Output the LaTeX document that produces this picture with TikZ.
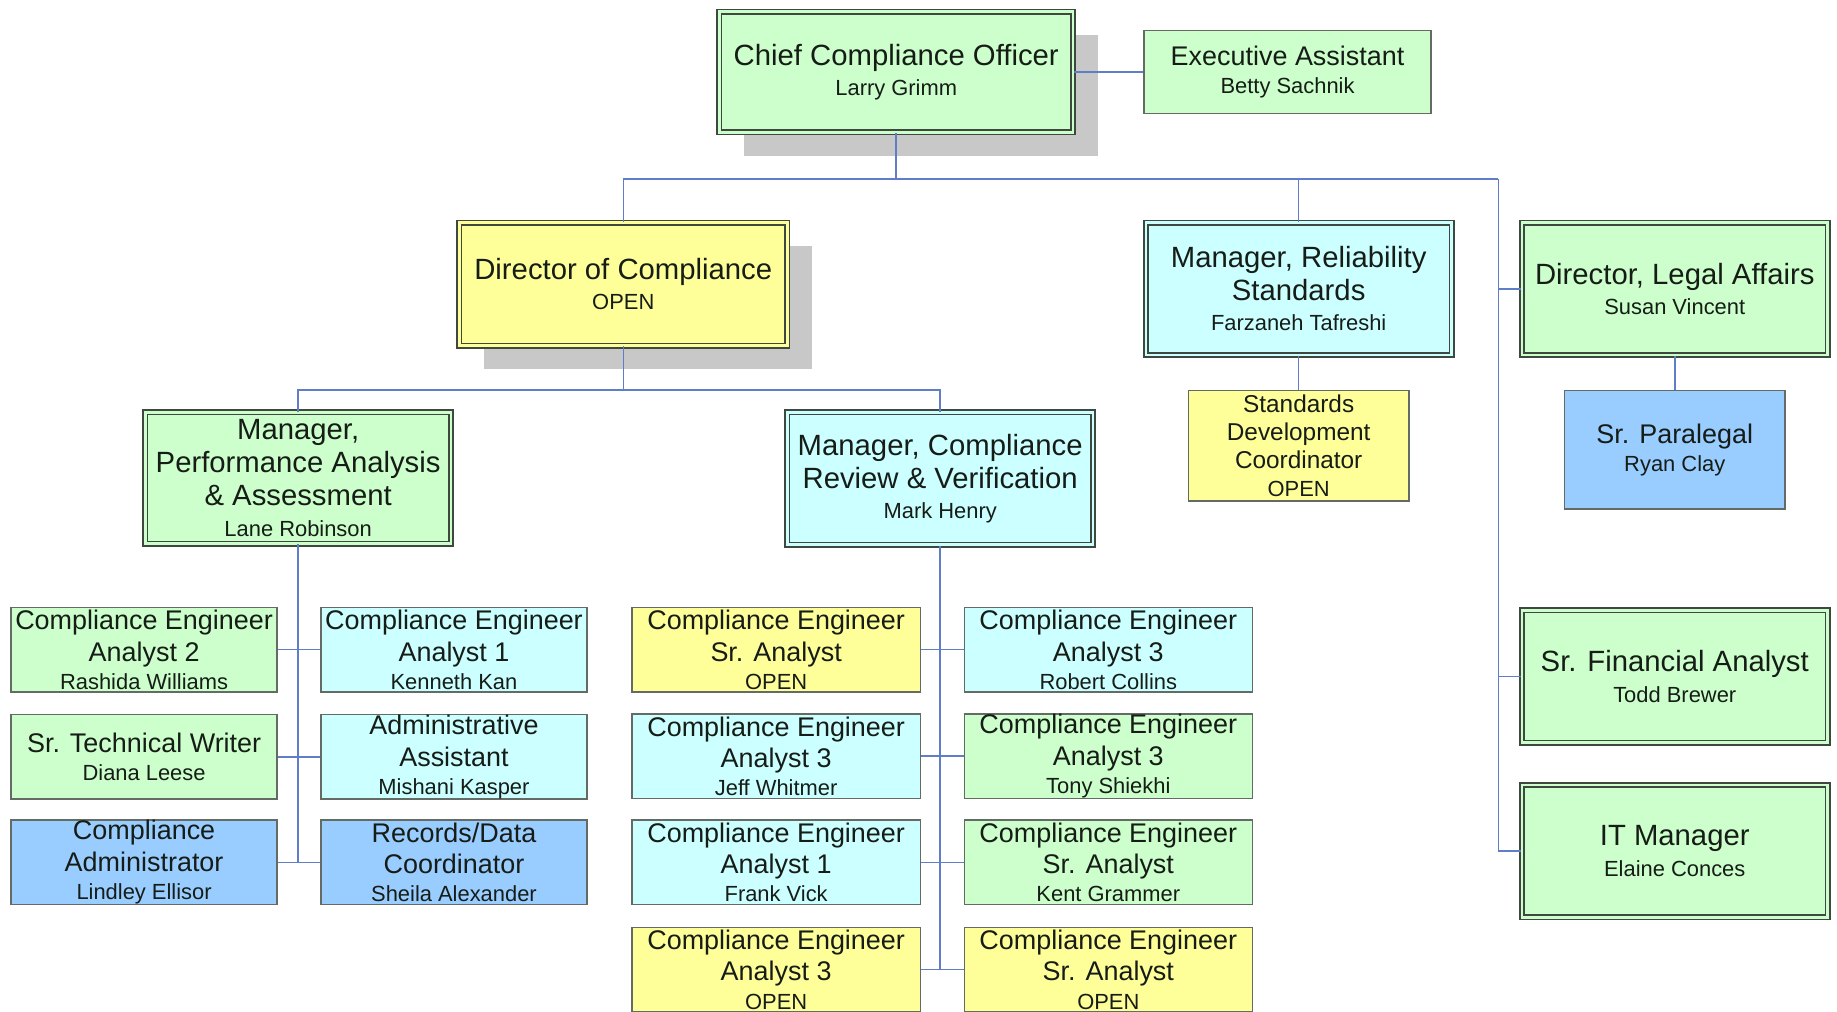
\documentclass[tikz,border=0pt]{standalone}
\usepackage{fontspec}
\setmainfont{Liberation Sans}
\usepackage{tikz}
\usetikzlibrary{shadows, positioning, calc}

\definecolor{orgGreen}{RGB}{204, 255, 204}
\definecolor{orgCyan}{RGB}{204, 255, 255}
\definecolor{orgYellow}{RGB}{255, 255, 153}
\definecolor{orgBlue}{RGB}{153, 204, 255}
\definecolor{boxline}{RGB}{62, 72, 62}
\definecolor{staffline}{RGB}{100, 106, 100}
\definecolor{linkblue}{RGB}{96, 126, 200}
\definecolor{shadowgray}{RGB}{200, 200, 200}
\definecolor{inkdark}{RGB}{22, 28, 22}

\newcommand\headfont{\fontsize{12.5}{14}\selectfont}
\newcommand\stafffont{\fontsize{11.5}{13.5}\selectfont}
\newcommand\coordfont{\fontsize{10.4}{12}\selectfont}
\newcommand\nm[1]{{\fontsize{9.35}{11}\selectfont #1}}

\tikzset{
  box/.style={align=center, inner xsep=1pt, inner ysep=0pt, text=inkdark},
  boxsize/.style 2 args={minimum width=#1*0.5pt, minimum height=#2*0.5pt},
  headbox/.style={box, draw=boxline, fill=#1, double=#1, double distance=1.1pt, line width=0.7pt, font=\headfont},
  staffbox/.style={box, draw=staffline, fill=#1, line width=0.6pt, font=\stafffont},
  shadowed/.style={drop shadow={shadow xshift=10.5pt, shadow yshift=-10pt, fill=shadowgray, opacity=1}},
  link/.style={draw=linkblue, line width=0.65pt},
  spine/.style={draw=linkblue, line width=0.85pt},
}

\begin{document}
\begin{tikzpicture}[x=0.5pt, y=-0.5pt]
  \useasboundingbox (0,0) rectangle (1568,863);
  \clip (0,0) rectangle (1568,863);

  % top level
  \node[headbox=orgGreen, shadowed, boxsize={302}{103}] (cco) at (765,61.5) {Chief Compliance Officer\\[-1pt]\nm{Larry Grimm}};
  \node[staffbox=orgGreen, boxsize={245}{71}] (exec) at (1099,61.5) {Executive Assistant\\[-1.5pt]\nm{Betty Sachnik}};

  % second level
  \node[headbox=orgYellow, shadowed, boxsize={280}{105}] (dir) at (532,242.5) {Director of Compliance\\[-1pt]\nm{OPEN}};
  \node[headbox=orgCyan, boxsize={261}{113}] (rel) at (1108.5,246.5) {Manager, Reliability\\Standards\\[-1pt]\nm{Farzaneh Tafreshi}};
  \node[headbox=orgGreen, boxsize={261}{113}] (legal) at (1429.5,246.5) {Director, Legal Affairs\\[-1pt]\nm{Susan Vincent}};
  \node[staffbox=orgYellow, font=\coordfont, boxsize={188}{94}] (coord) at (1108.5,380.5) {Standards\\Development\\Coordinator\\\nm{OPEN}};
  \node[staffbox=orgBlue, boxsize={188}{101}] (para) at (1429.5,384) {Sr. Paralegal\\[-1.5pt]\nm{Ryan Clay}};
  \node[headbox=orgGreen, boxsize={261}{113}] (fin) at (1429.5,577.5) {Sr. Financial Analyst\\[-1pt]\nm{Todd Brewer}};
  \node[headbox=orgGreen, boxsize={261}{113}] (itm) at (1429.5,726.5) {IT Manager\\[-1pt]\nm{Elaine Conces}};

  % managers under the director
  \node[headbox=orgGreen, boxsize={261}{112}] (paa) at (254.5,408) {Manager,\\Performance Analysis\\\& Assessment\\[-1pt]\nm{Lane Robinson}};
  \node[headbox=orgCyan, boxsize={261}{113}] (crv) at (802.5,408.5) {Manager, Compliance\\Review \& Verification\\[-1pt]\nm{Mark Henry}};

  % performance analysis staff
  \node[staffbox=orgGreen, boxsize={227}{72}] (pa1) at (123,554.5) {Compliance Engineer\\Analyst 2\\[-1.5pt]\nm{Rashida Williams}};
  \node[staffbox=orgCyan, boxsize={227}{72}] (pa2) at (387.5,554.5) {Compliance Engineer\\Analyst 1\\[-1.5pt]\nm{Kenneth Kan}};
  \node[staffbox=orgGreen, boxsize={227}{72}] (pa3) at (123,646) {Sr. Technical Writer\\[-1.5pt]\nm{Diana Leese}};
  \node[staffbox=orgCyan, boxsize={227}{72}] (pa4) at (387.5,646) {Administrative\\Assistant\\[-1.5pt]\nm{Mishani Kasper}};
  \node[staffbox=orgBlue, boxsize={227}{72}] (pa5) at (123,736) {Compliance\\Administrator\\[-1.5pt]\nm{Lindley Ellisor}};
  \node[staffbox=orgBlue, boxsize={227}{72}] (pa6) at (387.5,736) {Records/Data\\Coordinator\\[-1.5pt]\nm{Sheila Alexander}};

  % review & verification staff
  \node[staffbox=orgYellow, boxsize={246}{72}] (rv1) at (662.5,554.5) {Compliance Engineer\\Sr. Analyst\\[-1.5pt]\nm{OPEN}};
  \node[staffbox=orgCyan, boxsize={246}{72}] (rv2) at (946,554.5) {Compliance Engineer\\Analyst 3\\[-1.5pt]\nm{Robert Collins}};
  \node[staffbox=orgCyan, boxsize={246}{72}] (rv3) at (662.5,645.5) {Compliance Engineer\\Analyst 3\\[-1.5pt]\nm{Jeff Whitmer}};
  \node[staffbox=orgGreen, boxsize={246}{72}] (rv4) at (946,645.5) {Compliance Engineer\\Analyst 3\\[-1.5pt]\nm{Tony Shiekhi}};
  \node[staffbox=orgCyan, boxsize={246}{72}] (rv5) at (662.5,736) {Compliance Engineer\\Analyst 1\\[-1.5pt]\nm{Frank Vick}};
  \node[staffbox=orgGreen, boxsize={246}{72}] (rv6) at (946,736) {Compliance Engineer\\Sr. Analyst\\[-1.5pt]\nm{Kent Grammer}};
  \node[staffbox=orgYellow, boxsize={246}{72}] (rv7) at (662.5,827.5) {Compliance Engineer\\Analyst 3\\[-1.5pt]\nm{OPEN}};
  \node[staffbox=orgYellow, boxsize={246}{72}] (rv8) at (946,827.5) {Compliance Engineer\\Sr. Analyst\\[-1.5pt]\nm{OPEN}};

  % connectors
  \coordinate (topbus) at (765,153);
  \coordinate (sidebus) at (1279,153);
  \coordinate (dirbus) at (532,333);
  \draw[link] (cco.east) -- (cco.east -| exec.west);
  \draw[link] (cco.south) -- (topbus) -| (dir.north);
  \draw[link] (topbus) -| (rel.north);
  \draw[link] (topbus) -- (sidebus);
  \draw[link] (sidebus) |- (legal.west);
  \draw[link] (sidebus) |- (fin.west);
  \draw[link] (sidebus) |- (itm.west);
  \draw[link] (rel.south) -- (coord.north);
  \draw[link] (legal.south) -- (para.north);
  \draw[link] (dir.south) -- (dirbus) -| (paa.north);
  \draw[link] (dirbus) -| (crv.north);

  \draw[spine] (paa.south) -- (paa.south |- pa5.east);
  \draw[link] (pa1.east) -- (pa2.west);
  \draw[link] (pa3.east) -- (pa4.west);
  \draw[link] (pa5.east) -- (pa6.west);

  \draw[spine] (crv.south) -- (crv.south |- rv7.east);
  \draw[link] (rv1.east) -- (rv2.west);
  \draw[link] (rv3.east) -- (rv4.west);
  \draw[link] (rv5.east) -- (rv6.west);
  \draw[link] (rv7.east) -- (rv8.west);
\end{tikzpicture}
\end{document}
